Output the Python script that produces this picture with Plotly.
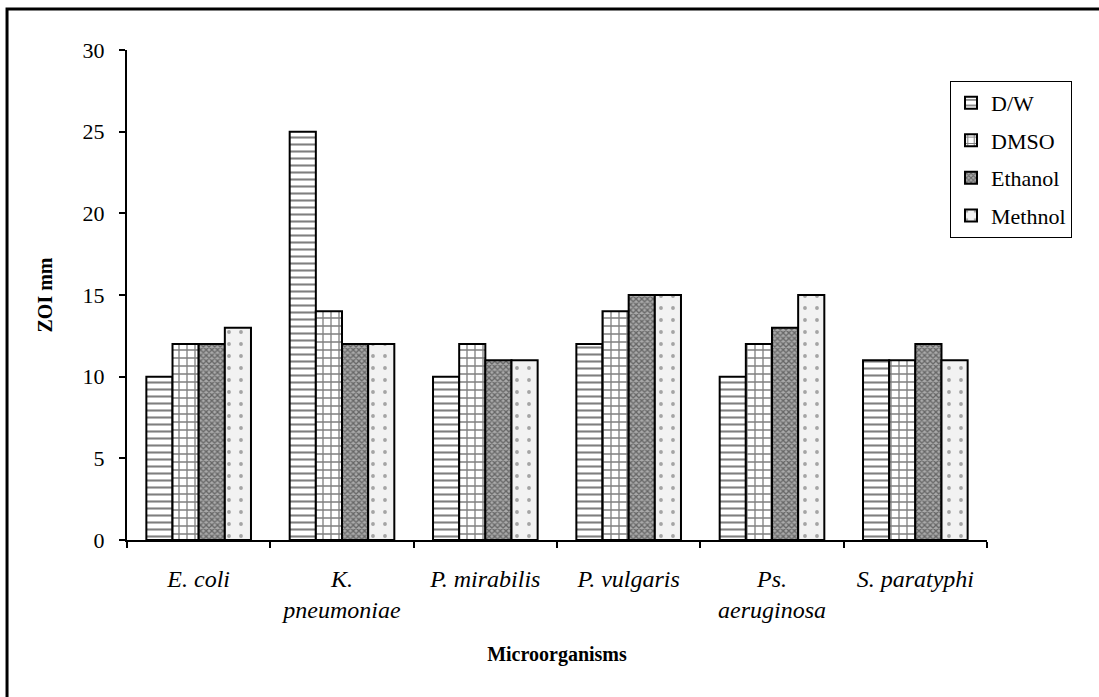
import plotly.graph_objects as go

categories = ["<i>E. coli</i>", "<i>K.<br>pneumoniae</i>", "<i>P. mirabilis</i>",
              "<i>P. vulgaris</i>", "<i>Ps.<br>aeruginosa</i>", "<i>S. paratyphi</i>"]
series_names = ["D/W", "DMSO", "Ethanol", "Methnol"]
dw = [10, 25, 10, 12, 10, 11]
dmso = [12, 14, 12, 14, 12, 11]
ethanol = [12, 12, 11, 15, 13, 12]
methnol = [13, 12, 11, 15, 15, 11]
y_ticks = [0, 5, 10, 15, 20, 25, 30]

series_values = [dw, dmso, ethanol, methnol]
patterns = [
    dict(shape="-", size=7, solidity=0.3, fgcolor="black", bgcolor="white"),
    dict(shape="+", size=8, solidity=0.3, fgcolor="black", bgcolor="white"),
    dict(shape="x", size=4, solidity=0.55, fgcolor="#222", bgcolor="#aaa"),
    dict(shape=".", size=12, solidity=0.08, fgcolor="#555", bgcolor="#f2f2f2"),
]

font = "Liberation Serif, Times New Roman, serif"
fig = go.Figure()
for name, vals, pat in zip(series_names, series_values, patterns):
    fig.add_trace(go.Bar(
        x=categories, y=vals, name=name, legendgroup=name,
        marker=dict(color="white", pattern=pat, line=dict(color="black", width=2)),
    ))

fig.update_layout(
    width=1099, height=697,
    margin=dict(l=127, r=112, t=50, b=157),
    paper_bgcolor="white", plot_bgcolor="white",
    barmode="group", bargap=0.27, bargroupgap=0,
    font=dict(family=font, size=22, color="black"),
    showlegend=True,
    legend=dict(x=0.957, y=0.937, xanchor="left", yanchor="top",
                bordercolor="black", borderwidth=1, bgcolor="white",
                font=dict(family=font, size=22), tracegroupgap=6,
                itemwidth=30),
    xaxis=dict(showline=True, linecolor="black", linewidth=2, ticks="outside",
               tickcolor="black", tickwidth=2, ticklen=6, tickson="boundaries",
               tickfont=dict(family=font, size=24), ticklabelstandoff=16,
               title=dict(text="<b>Microorganisms</b>", font=dict(family=font, size=20), standoff=25)),
    yaxis=dict(range=[0, 30], tickvals=y_ticks, showline=True, linecolor="black", linewidth=2,
               ticks="outside", tickcolor="black", tickwidth=2, ticklen=6, showgrid=False,
               zeroline=False, tickfont=dict(family=font, size=22), ticklabelstandoff=10,
               title=dict(text="<b>ZOI mm</b>", font=dict(family=font, size=20), standoff=25)),
    shapes=[dict(type="rect", xref="paper", yref="paper", x0=-0.1395, x1=1.2, y0=-0.4, y1=1.0837,
                 line=dict(color="black", width=3), fillcolor="rgba(0,0,0,0)", layer="below")],
)

fig.write_html("out.html")
